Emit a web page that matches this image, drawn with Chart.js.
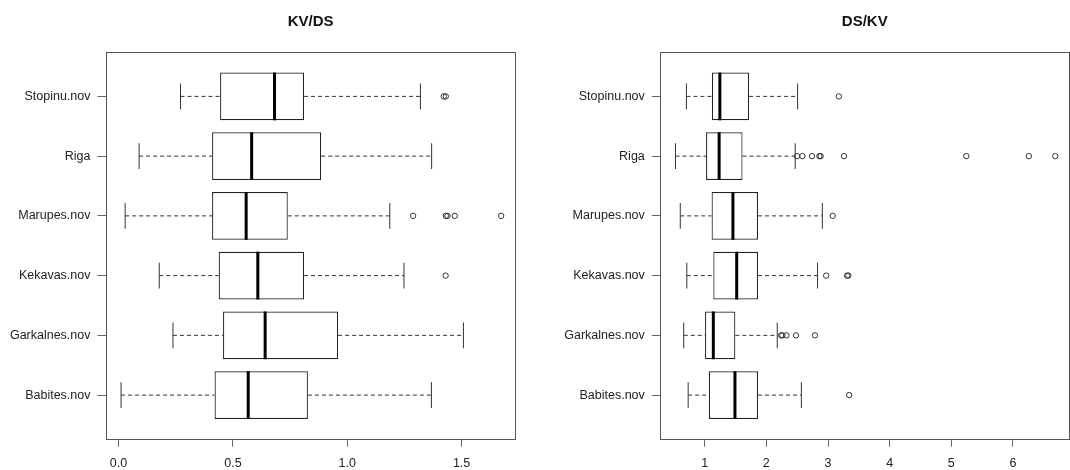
<!DOCTYPE html>
<html>
<head>
<meta charset="utf-8">
<script src="https://cdn.jsdelivr.net/npm/chart.js@4.4.1/dist/chart.umd.min.js"></script>
<style>
  html, body { margin: 0; padding: 0; background: #ffffff; }
  #wrap { position: relative; width: 1070px; height: 470px; overflow: hidden; background: #fff; }
  canvas { position: absolute; top: 0; }
</style>
</head>
<body>
<div id="wrap">
  <canvas id="c1" width="535" height="470" style="left:0px"></canvas>
  <canvas id="c2" width="535" height="470" style="left:535px"></canvas>
</div>
<script>
// ---- data (top to bottom as shown) ----
const categories = ["Stopinu.nov", "Riga", "Marupes.nov", "Kekavas.nov", "Garkalnes.nov", "Babites.nov"];

// KV/DS
const kvdsLow  = [0.271, 0.090, 0.029, 0.178, 0.238, 0.011];
const kvdsQ1   = [0.444, 0.409, 0.409, 0.438, 0.457, 0.420];
const kvdsMed  = [0.682, 0.582, 0.558, 0.609, 0.641, 0.567];
const kvdsQ3   = [0.811, 0.886, 0.740, 0.811, 0.960, 0.828];
const kvdsHigh = [1.320, 1.369, 1.186, 1.248, 1.508, 1.368];
const kvdsOut  = [[1.422, 1.431], [], [1.288, 1.431, 1.438, 1.470, 1.673], [1.430], [], []];
const kvdsTicks = [0, 0.5, 1.0, 1.5];

// DS/KV
const dskvLow  = [0.704, 0.526, 0.604, 0.710, 0.660, 0.732];
const dskvQ1   = [1.117, 1.022, 1.112, 1.140, 1.006, 1.067];
const dskvMed  = [1.246, 1.234, 1.458, 1.519, 1.140, 1.491];
const dskvQ3   = [1.720, 1.614, 1.865, 1.865, 1.497, 1.865];
const dskvHigh = [2.507, 2.468, 2.908, 2.830, 2.177, 2.568];
const dskvOut  = [[3.176], [2.498, 2.585, 2.741, 2.860, 2.880, 3.259, 5.243, 6.258, 6.686], [3.076], [2.970, 3.310, 3.330], [2.240, 2.260, 2.325, 2.481, 2.789], [3.344]];
const dskvTicks = [1, 2, 3, 4, 5, 6];

const FONT = "'Liberation Sans', Arial, Helvetica, sans-serif";

// category position on the (linear) y scale: top category = highest value
function posOf(i) { return categories.length - i; }

function makeChart(canvasId, title, low, q1, med, q3, high, outs, xTicks, xMin, xMax, tickFmt, yAxisWidth, rightPad) {
  const boxes = categories.map((c, i) => ({ x: [q1[i], q3[i]], y: posOf(i) }));
  const outliers = [];
  outs.forEach((arr, i) => arr.forEach(v => outliers.push({ x: v, y: posOf(i) })));

  const boxPlugin = {
    id: 'boxparts',
    beforeDatasetsDraw(chart) {
      const ctx = chart.ctx, xs = chart.scales.x;
      const meta = chart.getDatasetMeta(0);
      ctx.save();
      meta.data.forEach((bar, i) => {
        const y = bar.y, h = bar.height;
        const xl = xs.getPixelForValue(low[i]), x1 = xs.getPixelForValue(q1[i]);
        const x3 = xs.getPixelForValue(q3[i]), xh = xs.getPixelForValue(high[i]);
        ctx.strokeStyle = '#333';
        ctx.lineWidth = 1;
        ctx.setLineDash([4, 3]);
        ctx.beginPath();
        ctx.moveTo(xl, y); ctx.lineTo(x1, y);
        ctx.moveTo(x3, y); ctx.lineTo(xh, y);
        ctx.stroke();
        ctx.setLineDash([]);
        const sh = h * 0.27;
        ctx.beginPath();
        ctx.moveTo(xl, y - sh); ctx.lineTo(xl, y + sh);
        ctx.moveTo(xh, y - sh); ctx.lineTo(xh, y + sh);
        ctx.stroke();
      });
      ctx.restore();
    },
    afterDatasetsDraw(chart) {
      const ctx = chart.ctx, xs = chart.scales.x, a = chart.chartArea;
      const meta = chart.getDatasetMeta(0);
      ctx.save();
      ctx.strokeStyle = '#000';
      ctx.lineWidth = 3;
      meta.data.forEach((bar, i) => {
        const xm = xs.getPixelForValue(med[i]);
        ctx.beginPath();
        ctx.moveTo(xm, bar.y - bar.height / 2);
        ctx.lineTo(xm, bar.y + bar.height / 2);
        ctx.stroke();
      });
      ctx.strokeStyle = '#555';
      ctx.lineWidth = 1;
      ctx.strokeRect(Math.round(a.left) + 0.5, Math.round(a.top) + 0.5,
                     Math.round(a.right - a.left) - 1, Math.round(a.bottom - a.top));
      ctx.restore();
    }
  };

  return new Chart(document.getElementById(canvasId), {
    type: 'bar',
    data: {
      datasets: [
        {
          type: 'bar',
          indexAxis: 'y',
          data: boxes,
          backgroundColor: '#ffffff',
          borderColor: '#222',
          borderWidth: 1.2,
          borderSkipped: false,
          categoryPercentage: 1.0,
          barPercentage: 0.8,
          xAxisID: 'x',
          yAxisID: 'y'
        },
        {
          type: 'scatter',
          data: outliers,
          showLine: false,
          pointStyle: 'circle',
          pointRadius: 2.7,
          pointBorderWidth: 1,
          pointBackgroundColor: 'rgba(0,0,0,0)',
          pointBorderColor: '#333',
          xAxisID: 'x',
          yAxisID: 'y'
        }
      ]
    },
    options: {
      indexAxis: 'y',
      responsive: false,
      animation: false,
      events: [],
      layout: { autoPadding: false, padding: { left: 0, right: rightPad, top: 0, bottom: 0 } },
      plugins: {
        legend: { display: false },
        tooltip: { enabled: false },
        title: {
          display: true,
          text: title,
          fullSize: false,
          color: '#111',
          font: { family: FONT, size: 15, weight: 'bold', lineHeight: 1.2 },
          padding: { top: 12.5, bottom: 21.7 }
        }
      },
      scales: {
        x: {
          type: 'linear',
          position: 'bottom',
          offset: false,
          beginAtZero: false,
          min: xMin, max: xMax,
          afterBuildTicks(s) { s.ticks = xTicks.map(v => ({ value: v })); },
          afterFit(s) { s.height = 30.7; },
          border: { display: false },
          grid: { display: true, offset: false, drawOnChartArea: false, drawTicks: true, tickLength: 7.5, color: '#666', tickColor: '#666', lineWidth: 1 },
          ticks: {
            autoSkip: false, maxRotation: 0, padding: 9, color: '#222',
            font: { family: FONT, size: 12.5 },
            callback: (v) => tickFmt(v)
          }
        },
        y: {
          type: 'linear',
          position: 'left',
          offset: false,
          beginAtZero: false,
          min: 0.26, max: categories.length + 0.74,
          afterBuildTicks(s) { s.ticks = categories.map((c, i) => ({ value: posOf(i) })); },
          afterFit(s) { s.width = yAxisWidth; },
          border: { display: false },
          grid: { display: true, offset: false, drawOnChartArea: false, drawTicks: true, tickLength: 8, color: '#666', tickColor: '#666', lineWidth: 1 },
          ticks: {
            autoSkip: false, padding: 7, color: '#222',
            font: { family: FONT, size: 12.5 },
            callback: (v) => categories[categories.length - v]
          }
        }
      }
    },
    plugins: [boxPlugin]
  });
}

makeChart('c1', 'KV/DS', kvdsLow, kvdsQ1, kvdsMed, kvdsQ3, kvdsHigh, kvdsOut, kvdsTicks,
          -0.057, 1.737, v => v.toFixed(1), 105.5, 19.2);
makeChart('c2', 'DS/KV', dskvLow, dskvQ1, dskvMed, dskvQ3, dskvHigh, dskvOut, dskvTicks,
          0.272, 6.92, v => String(v), 124.8, 0.3);
</script>
</body>
</html>
